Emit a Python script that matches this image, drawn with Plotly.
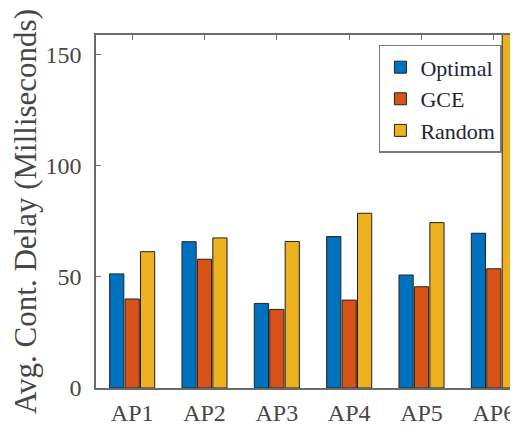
import plotly.graph_objects as go

categories = ["AP1", "AP2", "AP3", "AP4", "AP5", "AP6"]
optimal = [51.4, 65.9, 38.1, 68.2, 50.9, 69.7]
gce = [40.1, 58.0, 35.4, 39.6, 45.6, 53.7]
random_ = [61.4, 67.6, 66.0, 78.7, 74.5, 165.0]
y_ticks = [0, 50, 100, 150]

FONT = "Liberation Serif"
TXT = "#474747"
AX = "#6a6a6a"

fig = go.Figure()
for name, vals, col in [("Optimal", optimal, "#0072BD"),
                        ("GCE", gce, "#D95319"),
                        ("Random", random_, "#EDB120")]:
    fig.add_trace(go.Bar(x=categories, y=vals, name=name,
                         marker=dict(color=col, line=dict(color="#222222", width=1))))

# the page body adds an 8px offset, so the figure is 8px smaller each way
fig.update_layout(
    width=510, height=420,
    margin=dict(l=88, r=1, t=27, b=40),
    paper_bgcolor="white", plot_bgcolor="white",
    barmode="group", bargap=0.36, bargroupgap=0.08,
    font=dict(family=FONT, color=TXT, size=24),
    legend=dict(x=0.672, y=0.972, xanchor="left", yanchor="top",
                bordercolor="#7a7a7a", borderwidth=1.5, bgcolor="white",
                font=dict(family=FONT, size=22, color="#23233a"),
                itemwidth=30, tracegroupgap=0),
    xaxis=dict(range=[-0.5, 5.32], showline=True, linecolor=AX, linewidth=1.5,
               mirror="ticks", ticks="inside", ticklen=5, tickcolor=AX, automargin=False,
               ticklabelstandoff=2, ticklabeloverflow="allow",
               tickfont=dict(family=FONT, size=24, color=TXT), showgrid=False),
    yaxis=dict(range=[0, 159], tickvals=y_ticks, showline=True, linecolor=AX, linewidth=1.5,
               mirror="ticks", ticks="inside", ticklen=5, tickcolor=AX, automargin=False,
               ticklabelstandoff=8,
               tickfont=dict(family=FONT, size=24, color=TXT), showgrid=False, zeroline=False,
               title=dict(text="Avg. Cont. Delay (Milliseconds)", standoff=5,
                          font=dict(family=FONT, size=31, color=TXT))),
)

fig.write_html("out.html")
